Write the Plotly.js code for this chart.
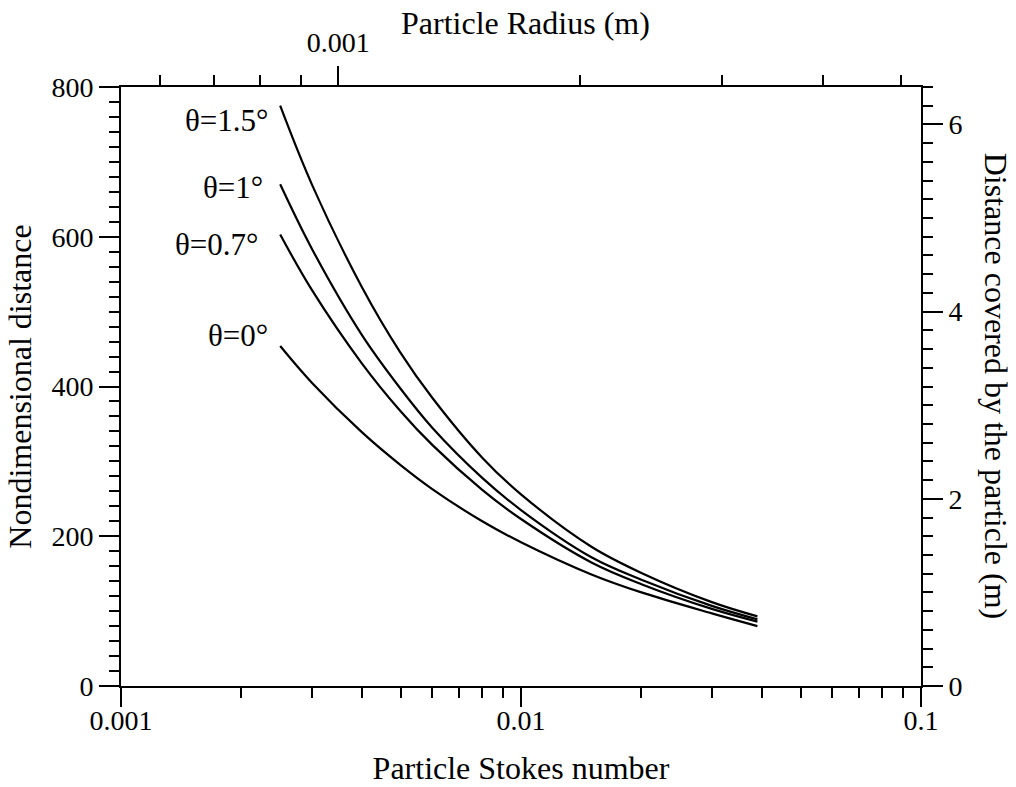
<!DOCTYPE html>
<html>
<head>
<meta charset="utf-8">
<script src="https://cdn.plot.ly/plotly-3.0.1.min.js"></script>
<style>html,body{margin:0;padding:0;background:#fff;}#chart{width:1016px;height:787px;}</style>
</head>
<body>
<div id="chart"></div>
<script>
// Particle Stokes number (bottom axis)
const stokes = [0.0025, 0.003, 0.004, 0.005, 0.006, 0.008, 0.01, 0.015, 0.02, 0.03, 0.039];
// Nondimensional distance for each inclination angle
const theta15 = [775, 670, 533, 445, 385, 305, 256, 186, 151, 112, 93];
const theta10 = [670, 584, 469, 397, 345, 278, 235, 172, 142, 107, 89];
const theta07 = [603, 529, 431, 367, 322, 262, 223, 165, 136, 103, 86];
const theta00 = [454, 405, 339, 295, 263, 220, 192, 149, 125, 97, 80];
const seriesNames = ["θ=1.5°", "θ=1°", "θ=0.7°", "θ=0°"];
// top axis: particle radius (m)
const radiusMajor = [0.001];
const radiusMajorText = ["0.001"];
const radiusMinor = [0.0006, 0.0007, 0.0008, 0.0009, 0.002, 0.003, 0.004, 0.005];
const radiusRange = [0.000537, 0.0053];
// bottom axis ticks
const stokesMajor = [0.001, 0.01, 0.1];
const stokesMajorText = ["0.001", "0.01", "0.1"];
const stokesMinor = [0.002,0.003,0.004,0.005,0.006,0.007,0.008,0.009,0.02,0.03,0.04,0.05,0.06,0.07,0.08,0.09];
// right axis range (m)
const rightRange = [0, 6.4];
const axisTitles = {bottom: 'Particle Stokes number', top: 'Particle Radius (m)',
  left: 'Nondimensional distance', right: 'Distance covered by the particle (m)'};

const font = "'Liberation Serif', 'Times New Roman', serif";
const series = [theta15, theta10, theta07, theta00];
const traces = series.map((ys, i) => ({
  x: stokes, y: ys, type: 'scatter', mode: 'lines', name: seriesNames[i],
  line: {color: '#000', width: 2.2, shape: 'spline', smoothing: 1},
  showlegend: false, hoverinfo: 'skip'
}));
// invisible anchors for secondary axes
traces.push({x: radiusRange, y: [0, 0], xaxis: 'x2', yaxis: 'y', type: 'scatter', mode: 'lines',
  line: {width: 0}, opacity: 0, showlegend: false, hoverinfo: 'skip'});
traces.push({x: stokes.slice(0,2), y: rightRange, xaxis: 'x', yaxis: 'y2', type: 'scatter', mode: 'lines',
  line: {width: 0}, opacity: 0, showlegend: false, hoverinfo: 'skip'});

const tickFont = {family: font, size: 28, color: '#000'};
const titleFont = {family: font, size: 32, color: '#000'};
const common = {showline: true, linecolor: '#000', linewidth: 2, ticks: 'outside', tickcolor: '#000',
  tickwidth: 2, showgrid: false, zeroline: false, tickfont: tickFont};

const layout = {
  width: 1016, height: 787,
  margin: {l: 121, r: 95, t: 87, b: 101},
  paper_bgcolor: '#fff', plot_bgcolor: '#fff',
  showlegend: false,
  xaxis: Object.assign({}, common, {
    type: 'log', range: [-3, -1], tickmode: 'array', tickvals: stokesMajor, ticktext: stokesMajorText,
    ticklen: 19, ticklabelstandoff: -11,
    minor: {tickmode: 'array', tickvals: stokesMinor, ticklen: 10, tickwidth: 2, tickcolor: '#000', ticks: 'outside'},
    title: {text: axisTitles.bottom, font: titleFont, standoff: 22}
  }),
  xaxis2: Object.assign({}, common, {
    type: 'log', overlaying: 'x', side: 'top', anchor: 'y',
    range: [Math.log10(radiusRange[0]), Math.log10(radiusRange[1])],
    tickmode: 'array', tickvals: radiusMajor, ticktext: radiusMajorText, ticklen: 19, ticklabelstandoff: 3,
    minor: {tickmode: 'array', tickvals: radiusMinor, ticklen: 10, tickwidth: 2, tickcolor: '#000', ticks: 'outside'}
  }),
  yaxis: Object.assign({}, common, {
    range: [0, 800], dtick: 200, tick0: 0, ticklen: 20,
    minor: {dtick: 20, ticklen: 10, tickwidth: 2, tickcolor: '#000', ticks: 'outside'},
    title: {text: axisTitles.left, font: titleFont, standoff: 10}
  }),
  yaxis2: Object.assign({}, common, {
    range: rightRange, dtick: 2, tick0: 0, overlaying: 'y', side: 'right', anchor: 'x', ticklen: 20,
    minor: {dtick: 0.2, ticklen: 10, tickwidth: 2, tickcolor: '#000', ticks: 'outside'}
  }),
  annotations: [
    {text: seriesNames[0], x: 0.1864, y: 0.944},
    {text: seriesNames[1], x: 0.1801, y: 0.832},
    {text: seriesNames[2], x: 0.1739, y: 0.737},
    {text: seriesNames[3], x: 0.1864, y: 0.585}
  ].map(a => Object.assign(a, {xref: 'paper', yref: 'paper', xanchor: 'right', yanchor: 'middle',
    showarrow: false, font: {family: font, size: 31, color: '#000'}})).concat([
    {text: axisTitles.top, xref: 'paper', yref: 'paper', x: 0.505, y: 1.1076, xanchor: 'center', yanchor: 'middle',
     showarrow: false, font: titleFont},
    {text: axisTitles.right, xref: 'paper', yref: 'paper', x: 1.0932, y: 0.502, xanchor: 'center', yanchor: 'middle',
     textangle: 90, showarrow: false, font: titleFont}
  ])
};

Plotly.newPlot('chart', traces, layout, {staticPlot: true, displayModeBar: false});
</script>
</body>
</html>
